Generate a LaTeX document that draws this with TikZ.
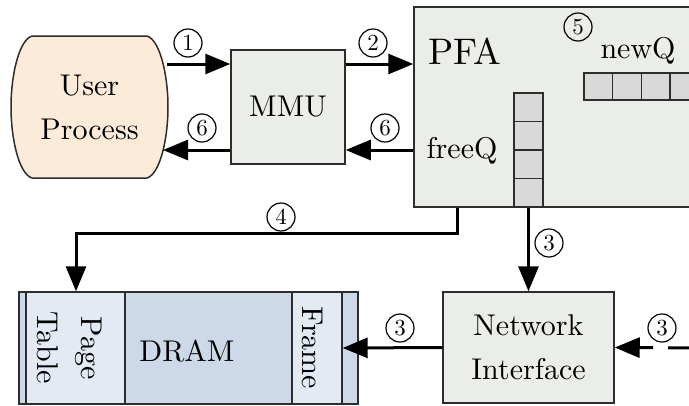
\documentclass[tikz,border=0pt]{standalone}
\usepackage{fontspec}
\setmainfont{lmroman10-regular.otf}
\usetikzlibrary{arrows.meta}
\definecolor{peach}{RGB}{253,235,217}
\definecolor{boxg}{RGB}{235,238,232}
\definecolor{cellg}{RGB}{217,217,217}
\definecolor{dramd}{RGB}{205,216,232}
\definecolor{draml}{RGB}{228,234,243}
\definecolor{edgec}{RGB}{45,45,45}
\begin{document}
\begin{tikzpicture}[x=1pt,y=-1pt,
  box/.style={draw=edgec,line width=1.5pt,fill=boxg,inner sep=0pt},
  big/.style={font=\fontsize{30}{44}\selectfont},
  num/.style={circle,draw=black,line width=1.2pt,minimum size=28pt,inner sep=0pt,font=\fontsize{23}{23}\selectfont},
  arr/.style={line width=3pt,-{Triangle[length=25pt,width=20pt]}},
  cell/.style={draw=edgec,line width=1.4pt,fill=cellg,inner sep=0pt},
  sect/.style={draw=edgec,line width=1.4pt,inner sep=0pt,minimum height=112pt}]
\clip (0,0) rectangle (689,405);
% User Process
\draw[draw=edgec,line width=1.5pt,fill=peach] (32,36) -- (147,36)
  .. controls (160,40) and (168,75) .. (168,107)
  .. controls (168,139) and (160,174) .. (147,178) -- (32,178)
  .. controls (19,174) and (11,139) .. (11,107)
  .. controls (11,75) and (19,40) .. (32,36) -- cycle;
\node[big,align=center,minimum width=155pt,minimum height=142pt,inner sep=0pt] (up) at (89.5,107) {User\\Process};
% MMU
\node[box,big,minimum width=114pt,minimum height=114pt] (mmu) at (288,107) {MMU};
% PFA
\node[box,minimum width=290pt,minimum height=200pt] (pfa) at (559,107) {};
\node[font=\fontsize{37}{37}\selectfont,inner sep=0pt] (pfal) at (465,51) {PFA};
\node[big,anchor=base,inner sep=0pt] (fql) at (462,158) {freeQ};
\node[big,anchor=base,inner sep=0pt] (nql) at (638,58) {newQ};
\node[num] (n5) at (578,27) {5};
\foreach \i in {0,...,3}{
  \node[cell,minimum width=29pt,minimum height=28.5pt] (fq\i) at (528.5,{107.25+28.5*\i}) {};
}
\foreach \i in {0,...,4}{
  \node[cell,minimum width=28.7pt,minimum height=27pt] (nq\i) at ({598.35+28.7*\i},86.5) {};
}
% Network Interface
\node[box,big,align=center,minimum width=171pt,minimum height=111pt] (ni) at (528.5,347.5) {Network\\Interface};
% DRAM
\node[sect,line width=1.5pt,fill=dramd,minimum width=339pt] (dram) at (188.5,348) {};
\node[sect,fill=draml,minimum width=99pt] (pt) at (75.5,348) {};
\node[sect,fill=draml,minimum width=50pt] (fr) at (317,348) {};
\node[big,rotate=-90,align=center,inner sep=0pt] (ptl) at (70,348) {Page\\Table};
\node[big,rotate=-90,inner sep=0pt] (frl) at (313,348) {Frame};
\node[big,inner sep=0pt] (dl) at (187,351) {DRAM};
% arrows
\draw[arr] (up.east |- 0,64) -- (mmu.west |- 0,64);
\node[num] (n1) at (188,43) {1};
\draw[arr] (mmu.east |- 0,64) -- (pfa.west |- 0,64);
\node[num] (n2) at (373,43) {2};
\draw[arr] (pfa.west |- 0,150) -- (mmu.east |- 0,150);
\node[num] (n6b) at (385,128) {6};
\draw[arr] (mmu.west |- 0,150) -- (163,150);
\node[num] (n6a) at (202,128) {6};
\draw[arr] (pfa.south -| 457,0) -- (457,233) -| (pt.north -| 76,0);
\node[num] (n4) at (281,217) {4};
\draw[arr] (fq3.south) -- (ni.north);
\node[num] (n3a) at (549,243) {3};
\draw[arr] (ni.west) -- (fr.east);
\node[num] (n3b) at (400,328) {3};
\coordinate (ext) at (700,348);
\draw[arr,dash pattern=on 32pt off 15pt on 200pt] (ext) -- (ni.east);
\node[num] (n3c) at (662,328) {3};
\end{tikzpicture}
\end{document}
